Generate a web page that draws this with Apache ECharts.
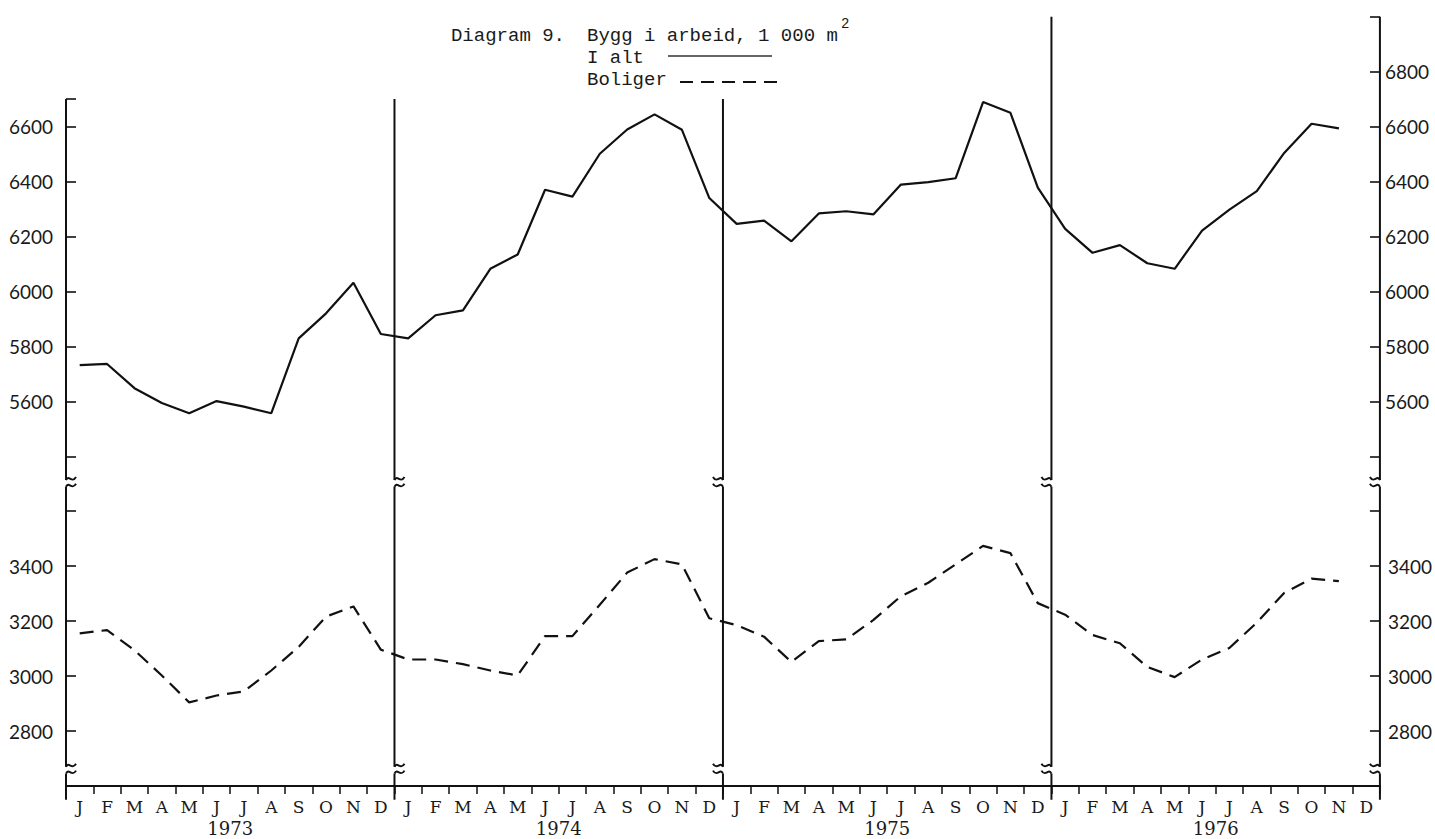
<!DOCTYPE html>
<html>
<head>
<meta charset="utf-8">
<script src="https://cdn.jsdelivr.net/npm/echarts@6/dist/echarts.min.js"></script>
<style>
html,body{margin:0;padding:0;background:#fff;}
#chart{width:1435px;height:839px;}
</style>
</head>
<body>
<div id="chart"></div>
<script>
// ---------- data ----------
const years = ['1973', '1974', '1975', '1976'];
const monthLetters = ['J', 'F', 'M', 'A', 'M', 'J', 'J', 'A', 'S', 'O', 'N', 'D'];

// I alt (total), 1 000 m2
const iAlt = [
  5733, 5737, 5649, 5595, 5558, 5602, 5582, 5558, 5830, 5921, 6032, 5846,
  5830, 5914, 5932, 6083, 6135, 6370, 6345, 6501, 6589, 6644, 6588, 6340,
  6246, 6258, 6183, 6284, 6292, 6281, 6389, 6398, 6412, 6689, 6650, 6378,
  6228, 6141, 6169, 6103, 6083, 6222, 6298, 6365, 6504, 6610, 6593, null
];
// Boliger (dwellings), 1 000 m2
const boliger = [
  3155, 3167, 3094, 3002, 2904, 2929, 2944, 3020, 3106, 3216, 3253, 3096,
  3060, 3060, 3043, 3020, 3002, 3145, 3145, 3259, 3376, 3425, 3406, 3210,
  3185, 3143, 3051, 3127, 3133, 3204, 3290, 3339, 3406, 3473, 3447, 3265,
  3223, 3149, 3119, 3033, 2996, 3060, 3102, 3194, 3302, 3354, 3345, null
];

const upperLeftLabels = [5600, 5800, 6000, 6200, 6400, 6600];
const upperRightLabels = [5600, 5800, 6000, 6200, 6400, 6600, 6800];
const lowerLabels = [2800, 3000, 3200, 3400];

// axis ranges
const upperLeftRange = [5400, 6700];
const upperRightRange = [5400, 7000];
const lowerRange = [2600, 3600];

// where the broken vertical lines are cut (axis values)
const breakUpperEnd = 5315;      // on upper axis
const breakLowerStart = 3688;    // on lower axis
const breakLowerEnd = 2670;
const breakBottomStart = 2645;
const breakBottomEnd = 2550;

// ---------- build ----------
const categories = [];
years.forEach(y => monthLetters.forEach((m, i) => categories.push(y + '-' + (i + 1))));

const INK = '#111';
const MONO = '"Liberation Mono", "DejaVu Sans Mono", monospace';
const TYPE = '"DejaVu Serif", "Liberation Serif", serif';
const NUM = 'Lato, "Noto Sans", sans-serif';

function yAxisCfg(gridIndex, position, range, shown, margin) {
  return {
    type: 'value', gridIndex: gridIndex, position: position,
    min: range[0], max: range[1], interval: 200,
    axisLine: { show: false },
    splitLine: { show: false },
    axisTick: { show: true, inside: true, length: 10, lineStyle: { color: INK, width: 1.6 } },
    axisLabel: {
      show: true, margin: margin, color: '#1a1a1a', fontFamily: NUM, fontSize: 19,
      formatter: v => shown.indexOf(v) >= 0 ? String(v) : ''
    }
  };
}
function hiddenX(gridIndex) {
  return { type: 'category', gridIndex: gridIndex, data: categories, boundaryGap: true, show: false };
}

const chart = echarts.init(document.getElementById('chart'), null, { renderer: 'svg' });

const option = {
  animation: false,
  backgroundColor: '#fff',
  grid: [
    { left: 66, right: 55, top: 99, bottom: 382.3 },
    { left: 66, right: 55, top: 16.7, bottom: 382.3 },
    { left: 66, right: 55, top: 511, bottom: 53 }
  ],
  xAxis: [
    hiddenX(0),
    hiddenX(1),
    {
      type: 'category', gridIndex: 2, data: categories, boundaryGap: true, position: 'bottom',
      axisLine: { show: true, onZero: false, lineStyle: { color: INK, width: 2 } },
      axisTick: { show: true, interval: 0, length: 8, lineStyle: { color: INK, width: 1.5 } },
      axisLabel: {
        interval: 0, margin: 12, color: '#1a1a1a', fontFamily: TYPE, fontSize: 17,
        formatter: v => monthLetters[parseInt(v.split('-')[1], 10) - 1]
      },
      splitLine: { show: false }
    },
    {
      type: 'category', gridIndex: 2, data: years, boundaryGap: true, position: 'bottom',
      axisLine: { show: false, onZero: false }, axisTick: { show: false },
      axisLabel: { interval: 0, margin: 33, color: '#1a1a1a', fontFamily: TYPE, fontSize: 18 },
      splitLine: { show: false }
    }
  ],
  yAxis: [
    yAxisCfg(0, 'left', upperLeftRange, upperLeftLabels, 13),
    yAxisCfg(1, 'right', upperRightRange, upperRightLabels, 5),
    yAxisCfg(2, 'left', lowerRange, lowerLabels, 13),
    yAxisCfg(2, 'right', lowerRange, lowerLabels, 8)
  ],
  series: [
    {
      name: 'I alt', type: 'line', xAxisIndex: 0, yAxisIndex: 0, data: iAlt,
      symbol: 'none', connectNulls: false,
      lineStyle: { color: INK, width: 2.2 }
    },
    {
      name: 'Boliger', type: 'line', xAxisIndex: 2, yAxisIndex: 2, data: boliger,
      symbol: 'none', connectNulls: false,
      lineStyle: { color: INK, width: 2.2, type: [14, 8] }
    }
  ]
};
chart.setOption(option);

// ---------- vertical axis / year lines with breaks ----------
const yPx = (axisIndex, v) => chart.convertToPixel({ yAxisIndex: axisIndex }, v);
const c0 = chart.convertToPixel({ xAxisIndex: 2 }, categories[0]);
const c1 = chart.convertToPixel({ xAxisIndex: 2 }, categories[1]);
const band = c1 - c0;
const edgeX = k => c0 - band / 2 + k * band;

const verticals = [
  { k: 0,  topAxis: 0, topVal: upperLeftRange[1], dir: 1 },
  { k: 12, topAxis: 0, topVal: upperLeftRange[1], dir: 1 },
  { k: 24, topAxis: 0, topVal: upperLeftRange[1], dir: -1 },
  { k: 36, topAxis: 1, topVal: upperRightRange[1], dir: -1 },
  { k: 48, topAxis: 1, topVal: upperRightRange[1], dir: -1 }
];

const lineStyle = { stroke: INK, lineWidth: 2, fill: null };
const graphics = [];
function seg(x, y1, y2) {
  graphics.push({ type: 'line', silent: true, shape: { x1: x, y1: y1, x2: x, y2: y2 }, style: lineStyle });
}
function tilde(x, y, d) {
  graphics.push({
    type: 'bezierCurve', silent: true,
    shape: { x1: x, y1: y, cpx1: x + d * 3, cpy1: y - 6, cpx2: x + d * 6, cpy2: y + 4, x2: x + d * 10, y2: y - 3 },
    style: lineStyle
  });
}
verticals.forEach(v => {
  const x = edgeX(v.k);
  const yTop = yPx(v.topAxis, v.topVal);
  const yA = yPx(0, breakUpperEnd);
  const yB = yPx(2, breakLowerStart);
  const yC = yPx(2, breakLowerEnd);
  const yD = yPx(2, breakBottomStart);
  const yE = yPx(2, breakBottomEnd);
  seg(x, yTop, yA); tilde(x, yA, v.dir);
  tilde(x, yB, v.dir); seg(x, yB, yC); tilde(x, yC, v.dir);
  tilde(x, yD, v.dir); seg(x, yD, yE);
});

// ---------- heading block ----------
const headFont = '19px ' + MONO;
function txt(text, x, y, align, font) {
  graphics.push({
    type: 'text', silent: true, x: x, y: y,
    style: { text: text, font: font || headFont, fill: '#1a1a1a', textAlign: align, align: align, textVerticalAlign: 'middle', verticalAlign: 'middle' }
  });
}
txt('Diagram 9.', 565, 36, 'right');
txt('Bygg i arbeid, 1 000 m', 587, 36, 'left');
txt('2', 841, 24, 'left', '14px ' + MONO);
txt('I alt', 587, 58, 'left');
txt('Boliger', 587, 80, 'left');
graphics.push({ type: 'line', silent: true, shape: { x1: 668, y1: 56, x2: 772, y2: 56 }, style: { stroke: '#333', lineWidth: 1.3 } });
graphics.push({ type: 'line', silent: true, shape: { x1: 680, y1: 82, x2: 785, y2: 82 }, style: { stroke: INK, lineWidth: 2, lineDash: [13, 8] } });

chart.setOption({ graphic: { elements: graphics } });
</script>
</body>
</html>
